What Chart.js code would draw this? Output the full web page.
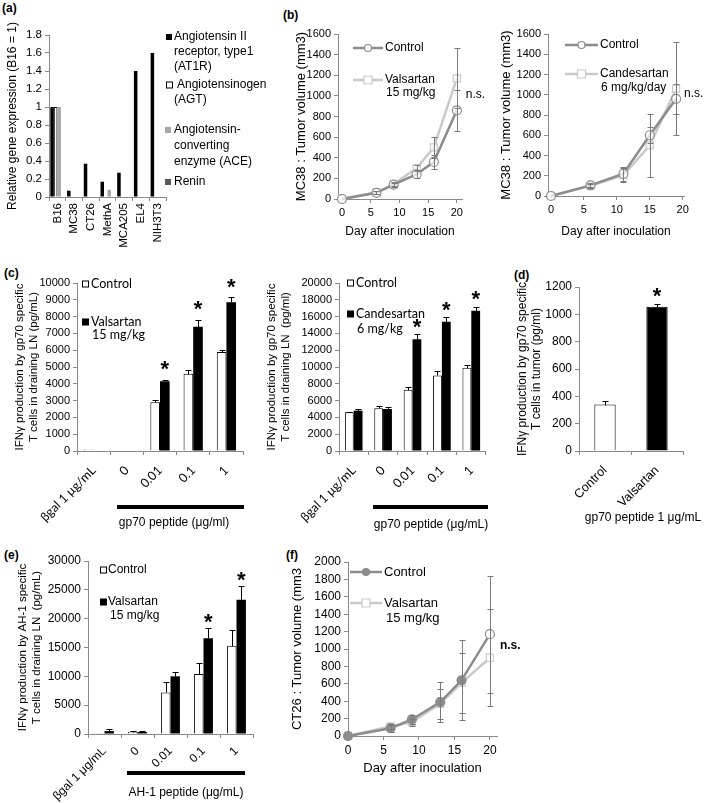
<!DOCTYPE html>
<html>
<head>
<meta charset="utf-8">
<script src="https://cdn.jsdelivr.net/npm/chart.js@4.4.1/dist/chart.umd.min.js"></script>
<style>
  body { margin: 0; width: 709px; height: 803px; background: #fff; position: relative; overflow: hidden;
         font-family: "Liberation Sans", Arial, sans-serif; }
  .tag { position: absolute; font-weight: bold; font-size: 12px; color: #000; }
  canvas { position: absolute; }
</style>
</head>
<body>
<div class="tag" style="left:2px;top:1px">(a)</div>
<div class="tag" style="left:283px;top:8px">(b)</div>
<div class="tag" style="left:4px;top:266px">(c)</div>
<div class="tag" style="left:514px;top:268px">(d)</div>
<div class="tag" style="left:4px;top:548px">(e)</div>
<div class="tag" style="left:286px;top:548px">(f)</div>
<script>
// (a) relative gene expression, B16 = 1
const cellLines = ['B16', 'MC38', 'CT26', 'MethA', 'MCA205', 'EL4', 'NIH3T3'];
const at1r  = [1, 0.07, 0.37, 0.17, 0.27, 1.4, 1.6];
const agt   = [1, 0, 0, 0, 0, 0, 0];
const ace   = [1, 0, 0, 0.08, 0, 0, 0];
const renin = [0, 0, 0, 0, 0, 0, 0];

// (b) MC38 tumour volume, valsartan
const dayB1 = [0, 6, 9, 13, 16, 20];
const mc38Ctrl = [0, 60, 140, 240, 360, 860];
const mc38CtrlErr = [0, 15, 20, 40, 70, 200];
const mc38Val = [0, 65, 145, 300, 500, 1170];
const mc38ValErr = [0, 15, 20, 30, 100, 290];

// (b) MC38 tumour volume, candesartan
const dayB2 = [0, 6, 11, 15, 19];
const candCtrl = [0, 105, 220, 600, 960];
const candCtrlErr = [0, 20, 70, 80, 150];
const candDrug = [0, 100, 205, 500, 1060];
const candDrugErr = [0, 20, 70, 310, 460];

// (c) IFNg in draining LN
const doseLabels = ['βgal 1 μg/mL', '0', '0.01', '0.1', '1'];
const gpCtrl = [80, 0, 2900, 4600, 5900];
const gpCtrlErr = [0, 0, 150, 220, 120];
const gpVal = [0, 0, 4150, 7400, 8850];
const gpValErr = [0, 0, 100, 400, 300];
const gpCandCtrl = [4600, 5100, 7300, 9000, 9900];
const gpCandCtrlErr = [100, 200, 300, 500, 300];
const gpCand = [4800, 5000, 13300, 15400, 16700];
const gpCandErr = [150, 200, 600, 500, 500];

// (d) IFNg in tumour
const tumorLabels = ['Control', 'Valsartan'];
const tumorIfn = [340, 1055];
const tumorIfnErr = [25, 20];

// (e) AH-1 specific IFNg
const ahCtrl = [50, 400, 7200, 10400, 15300];
const ahCtrlErr = [0, 200, 1800, 1900, 2800];
const ahVal = [500, 350, 10000, 16600, 23300];
const ahValErr = [300, 200, 800, 1800, 2400];

// (f) CT26 tumour volume
const dayF = [0, 6, 9, 13, 16, 20];
const ct26Ctrl = [0, 90, 190, 390, 640, 1170];
const ct26CtrlErr = [0, 40, 50, 230, 460, 670];
const ct26Val = [0, 110, 160, 370, 610, 900];
const ct26ValErr = [0, 30, 40, 170, 340, 560];

const AX = '#8a8a8a';
const DARK = '#8c8c8c', LIGHT = '#c9c9c9';
const SANS = '"Liberation Sans", Arial, sans-serif';
const CAL = 'Lato, "Liberation Sans", sans-serif';

Chart.defaults.font.family = SANS;
Chart.defaults.color = '#000';
Chart.defaults.animation = false;
Chart.defaults.responsive = false;
Chart.defaults.plugins.legend.display = false;
Chart.defaults.plugins.tooltip.enabled = false;

function place(left, top, w, h) {
  const c = document.createElement('canvas');
  c.width = w; c.height = h;
  c.style.left = left + 'px'; c.style.top = top + 'px';
  c.style.width = w + 'px'; c.style.height = h + 'px';
  document.body.appendChild(c);
  return c;
}

function yAxis(o) {
  return {
    min: 0, max: o.max,
    ticks: { stepSize: o.step, font: { size: o.fs || 11 }, padding: 3, callback: o.fmt || (v => String(v)) },
    grid: { drawOnChartArea: false, tickLength: 4, color: AX },
    border: { color: AX },
    title: { display: true, text: o.title, font: { size: o.tfs || 12, family: SANS },
             padding: { top: o.tpad, bottom: 0 } },
    afterFit: s => { s.width = o.w; }
  };
}

function catAxis(o) {
  return {
    ticks: { minRotation: o.rot, maxRotation: o.rot, autoSkip: false, padding: o.pad || 2,
             font: { size: o.fs || 12, family: o.family || SANS } },
    grid: { drawOnChartArea: false, tickLength: 4, color: AX },
    border: { color: AX },
    afterFit: s => { s.height = o.h; }
  };
}

function dayAxis(o) {
  return {
    type: 'linear', min: o.min, max: o.max,
    afterBuildTicks: s => { s.ticks = [0, 5, 10, 15, 20].map(v => ({ value: v })); },
    ticks: { font: { size: o.fs || 11 }, padding: 3, callback: v => String(v) },
    grid: { drawOnChartArea: false, tickLength: 4, color: AX, offset: false },
    border: { color: AX },
    title: { display: true, text: 'Day after inoculation', font: { size: o.tfs || 12 },
             padding: { top: 0, bottom: o.tpad } },
    afterFit: s => { s.height = o.h; }
  };
}

function pts(xs, ys) { return xs.map((x, i) => ({ x: x, y: ys[i] })); }

// error bars, legends, stars and labels
const deco = {
  id: 'deco',
  afterDatasetsDraw(chart, args, o) {
    const ctx = chart.ctx;
    chart.data.datasets.forEach((ds, i) => {
      if (!ds.errors) return;
      const meta = chart.getDatasetMeta(i);
      const ys = chart.scales[meta.yAxisID];
      ctx.save();
      ctx.strokeStyle = ds.errorColor || '#000';
      ctx.lineWidth = 1;
      meta.data.forEach((el, j) => {
        const e = ds.errors[j];
        if (!e) return;
        const d = ds.data[j];
        const v = typeof d === 'object' ? d.y : d;
        const top = Math.round(ys.getPixelForValue(v + e)) + 0.5;
        const bot = Math.round(ys.getPixelForValue(o.both ? v - e : v)) + 0.5;
        const x = Math.round(el.x) + 0.5, cw = o.cap || 3;
        ctx.beginPath();
        ctx.moveTo(x, top); ctx.lineTo(x, bot);
        ctx.moveTo(x - cw, top); ctx.lineTo(x + cw, top);
        if (o.both) { ctx.moveTo(x - cw, bot); ctx.lineTo(x + cw, bot); }
        ctx.stroke();
      });
      ctx.restore();
    });
  },
  afterDraw(chart, args, o) {
    const ctx = chart.ctx, ox = o.ox || 0, oy = o.oy || 0;
    ctx.save();
    ctx.textBaseline = 'middle';
    (o.rules || []).forEach(r => {
      ctx.fillStyle = '#000';
      ctx.fillRect(r.x0 - ox, r.y - oy - 2, r.x1 - r.x0, 4);
    });
    (o.keys || []).forEach(k => {
      const y = k.y - oy;
      ctx.strokeStyle = k.color; ctx.lineWidth = 2.5;
      ctx.beginPath(); ctx.moveTo(k.x0 - ox, y); ctx.lineTo(k.x1 - ox, y); ctx.stroke();
      const mx = (k.x0 + k.x1) / 2 - ox;
      ctx.lineWidth = 1.2; ctx.fillStyle = k.fill;
      ctx.beginPath();
      if (k.shape === 'rect') ctx.rect(mx - 4, y - 4, 8, 8);
      else ctx.arc(mx, y, 3.5, 0, Math.PI * 2);
      ctx.fill(); ctx.stroke();
    });
    (o.boxes || []).forEach(b => {
      const x = b.x - ox, y = b.y - oy - b.s / 2;
      ctx.fillStyle = b.fill;
      ctx.fillRect(x, y, b.s, b.s);
      if (b.stroke) {
        ctx.strokeStyle = b.stroke; ctx.lineWidth = 1;
        ctx.strokeRect(x + 0.5, y + 0.5, b.s - 1, b.s - 1);
      }
    });
    (o.texts || []).forEach(t => {
      ctx.font = t.font; ctx.fillStyle = '#000'; ctx.textAlign = t.align || 'left';
      ctx.fillText(t.s, t.x - ox, t.y - oy);
    });
    if (o.stars) {
      const s = o.stars, ds = chart.data.datasets[s.ds];
      const meta = chart.getDatasetMeta(s.ds), ys = chart.scales[meta.yAxisID];
      ctx.font = 'bold 22px ' + SANS; ctx.textAlign = 'center'; ctx.textBaseline = 'alphabetic';
      ctx.fillStyle = '#000';
      s.idx.forEach(j => {
        const top = ys.getPixelForValue(ds.data[j] + (ds.errors ? ds.errors[j] : 0));
        ctx.fillText('*', meta.data[j].x, top - s.gap + 12.5);
      });
      ctx.textBaseline = 'middle';
    }
    if (o.ns) {
      const m0 = chart.getDatasetMeta(0).data, m1 = chart.getDatasetMeta(1).data;
      const a = m0[m0.length - 1], b = m1[m1.length - 1];
      ctx.font = o.ns.font; ctx.textAlign = 'left'; ctx.fillStyle = '#000';
      ctx.fillText('n.s.', Math.max(a.x, b.x) + o.ns.dx, (a.y + b.y) / 2);
    }
    ctx.restore();
  }
};

function lineSet(xs, ys, errs, color, shape, fill) {
  return {
    data: pts(xs, ys), errors: errs, errorColor: '#7a7a7a',
    borderColor: color, borderWidth: 2.5, tension: 0, clip: false,
    pointStyle: shape, pointRadius: shape === 'rect' ? 5 : 4.5,
    pointBorderColor: color, pointBackgroundColor: fill, pointBorderWidth: 1.2
  };
}

// ---------- (a)
new Chart(place(0, 22, 288, 240), {
  type: 'bar',
  data: {
    labels: cellLines,
    datasets: [
      { data: at1r, backgroundColor: '#000' },
      { data: agt, backgroundColor: '#fff', borderColor: '#000', borderWidth: 1, borderSkipped: 'start' },
      { data: ace, backgroundColor: '#a6a6a6' },
      { data: renin, backgroundColor: '#595959' }
    ]
  },
  options: {
    layout: { padding: { top: 13, right: 122, left: 0, bottom: 0 } },
    datasets: { bar: { categoryPercentage: 0.84, barPercentage: 1 } },
    scales: {
      x: catAxis({ rot: 90, h: 65, fs: 11.5 }),
      y: yAxis({ max: 1.8, step: 0.2, w: 49, fs: 11.5, title: 'Relative gene expression (B16 = 1)', tpad: 5,
                 fmt: v => String(Math.round(v * 10) / 10) })
    },
    plugins: {
      deco: {
        ox: 0, oy: 22,
        boxes: [
          { x: 166, y: 37, s: 6, fill: '#000' },
          { x: 166, y: 85, s: 7, fill: '#fff', stroke: '#000' },
          { x: 165, y: 130, s: 6, fill: '#a6a6a6' },
          { x: 165, y: 182, s: 6, fill: '#595959' }
        ],
        texts: [
          ['Angiotensin II', 174, 37], ['receptor, type1', 174, 52], ['(AT1R)', 174, 67],
          ['Angiotensinogen', 177, 85], ['(AGT)', 174, 100],
          ['Angiotensin-', 174, 130], ['converting', 174, 146], ['enzyme (ACE)', 174, 162],
          ['Renin', 174, 182]
        ].map(t => ({ s: t[0], x: t[1], y: t[2], font: '12px ' + SANS }))
      }
    }
  },
  plugins: [deco]
});

// ---------- (b) valsartan
new Chart(place(290, 24, 200, 218), {
  type: 'line',
  data: {
    datasets: [
      lineSet(dayB1, mc38Ctrl, mc38CtrlErr, DARK, 'circle', 'rgba(255,255,255,0.7)'),
      lineSet(dayB1, mc38Val, mc38ValErr, LIGHT, 'rect', 'rgba(255,255,255,0.7)')
    ]
  },
  options: {
    layout: { padding: { top: 10, right: 28, left: 0, bottom: 0 } },
    scales: {
      x: dayAxis({ min: -0.7, max: 20.9, h: 43, tpad: 3 }),
      y: yAxis({ max: 1600, step: 200, w: 48, title: 'MC38 : Tumor volume (mm3)', tfs: 13, tpad: 4 })
    },
    plugins: {
      deco: {
        ox: 290, oy: 24, both: true,
        ns: { dx: 9, font: '12px ' + SANS },
        keys: [
          { x0: 353, x1: 383, y: 48, color: DARK, fill: '#fff', shape: 'circle' },
          { x0: 353, x1: 383, y: 80, color: LIGHT, fill: '#fff', shape: 'rect' }
        ],
        texts: [['Control', 385, 48], ['Valsartan', 385, 80], ['15 mg/kg', 386, 93]]
          .map(t => ({ s: t[0], x: t[1], y: t[2], font: '12px ' + SANS }))
      }
    }
  },
  plugins: [deco]
});

// ---------- (b) candesartan
new Chart(place(495, 24, 214, 218), {
  type: 'line',
  data: {
    datasets: [
      lineSet(dayB2, candCtrl, candCtrlErr, DARK, 'circle', 'rgba(255,255,255,0.7)'),
      lineSet(dayB2, candDrug, candDrugErr, LIGHT, 'rect', 'rgba(255,255,255,0.7)')
    ]
  },
  options: {
    layout: { padding: { top: 10, right: 25, left: 0, bottom: 0 } },
    scales: {
      x: dayAxis({ min: -0.45, max: 20.2, h: 46, tpad: 3 }),
      y: yAxis({ max: 1600, step: 200, w: 53, title: 'MC38 : Tumor volume (mm3)', tfs: 13, tpad: 4 })
    },
    plugins: {
      deco: {
        ox: 495, oy: 24, both: true,
        ns: { dx: 8, font: '12px ' + SANS },
        keys: [
          { x0: 565, x1: 598, y: 45, color: DARK, fill: '#fff', shape: 'circle' },
          { x0: 565, x1: 598, y: 74, color: LIGHT, fill: '#fff', shape: 'rect' }
        ],
        texts: [['Control', 600, 45], ['Candesartan', 600, 74], ['6 mg/kg/day', 601, 88]]
          .map(t => ({ s: t[0], x: t[1], y: t[2], font: '12px ' + SANS }))
      }
    }
  },
  plugins: [deco]
});

// ---------- (c) valsartan, draining LN
new Chart(place(0, 268, 250, 267), {
  type: 'bar',
  data: {
    labels: doseLabels,
    datasets: [
      { data: gpCtrl, errors: gpCtrlErr, backgroundColor: '#fff', borderColor: '#000', borderWidth: 1, borderSkipped: 'start' },
      { data: gpVal, errors: gpValErr, backgroundColor: '#000' }
    ]
  },
  options: {
    layout: { padding: { top: 15, right: 7, left: 0, bottom: 0 } },
    datasets: { bar: { categoryPercentage: 0.58, barPercentage: 1 } },
    scales: {
      x: catAxis({ rot: 45, h: 84, fs: 12.5, family: CAL, pad: 8 }),
      y: yAxis({ max: 10000, step: 1000, w: 77, fs: 11,
                 title: ['IFNγ production by gp70 specific', 'T cells in draining LN (pg/mL)'], tfs: 11.5, tpad: 13 })
    },
    plugins: {
      deco: {
        ox: 0, oy: 268,
        stars: { ds: 1, idx: [2, 3, 4], gap: 16 },
        rules: [{ x0: 117, x1: 244, y: 507 }],
        boxes: [
          { x: 82, y: 284, s: 7, fill: '#fff', stroke: '#000' },
          { x: 82, y: 322, s: 7, fill: '#000' }
        ],
        texts: [
          { s: 'Control', x: 91, y: 284, font: '12.5px ' + CAL },
          { s: 'Valsartan', x: 91, y: 322, font: '12.5px ' + CAL },
          { s: '15 mg/kg', x: 92, y: 335, font: '12.5px ' + CAL },
          { s: 'gp70 peptide (μg/ml)', x: 174, y: 523, align: 'center', font: '12px ' + SANS }
        ]
      }
    }
  },
  plugins: [deco]
});

// ---------- (c) candesartan, draining LN
new Chart(place(262, 268, 228, 267), {
  type: 'bar',
  data: {
    labels: doseLabels,
    datasets: [
      { data: gpCandCtrl, errors: gpCandCtrlErr, backgroundColor: '#fff', borderColor: '#000', borderWidth: 1, borderSkipped: 'start' },
      { data: gpCand, errors: gpCandErr, backgroundColor: '#000' }
    ]
  },
  options: {
    layout: { padding: { top: 15, right: 1, left: 0, bottom: 0 } },
    datasets: { bar: { categoryPercentage: 0.6, barPercentage: 1 } },
    scales: {
      x: catAxis({ rot: 45, h: 84, fs: 12.5, family: CAL, pad: 8 }),
      y: yAxis({ max: 20000, step: 2000, w: 77, fs: 11,
                 title: ['IFNγ production by gp70 specific', 'T cells in draining LN  (pg/ml)'], tfs: 11.5, tpad: 3 })
    },
    plugins: {
      deco: {
        ox: 262, oy: 268,
        stars: { ds: 1, idx: [2, 3, 4], gap: 13 },
        rules: [{ x0: 373, x1: 488, y: 507 }],
        boxes: [
          { x: 347, y: 283, s: 7, fill: '#fff', stroke: '#000' },
          { x: 347, y: 314, s: 7, fill: '#000' }
        ],
        texts: [
          { s: 'Control', x: 356, y: 283, font: '12.5px ' + CAL },
          { s: 'Candesartan', x: 356, y: 314, font: '12.5px ' + CAL },
          { s: '6 mg/kg', x: 357, y: 329, font: '12.5px ' + CAL },
          { s: 'gp70 peptide (μg/mL)', x: 431, y: 525, align: 'center', font: '12px ' + SANS }
        ]
      }
    }
  },
  plugins: [deco]
});

// ---------- (d) tumour
new Chart(place(505, 268, 204, 267), {
  type: 'bar',
  data: {
    labels: tumorLabels,
    datasets: [
      { data: tumorIfn, errors: tumorIfnErr, backgroundColor: ['#fff', '#000'], borderColor: '#000',
        borderWidth: 1, borderSkipped: 'start' }
    ]
  },
  options: {
    layout: { padding: { top: 19, right: 26, left: 0, bottom: 0 } },
    datasets: { bar: { categoryPercentage: 1, barPercentage: 0.41 } },
    scales: {
      x: catAxis({ rot: 45, h: 84, fs: 12.5, pad: 8 }),
      y: yAxis({ max: 1200, step: 200, w: 74, fs: 12,
                 title: ['IFNγ production by gp70 specific', 'T cells in tumor (pg/ml)'], tfs: 12, tpad: 10 })
    },
    plugins: {
      deco: {
        ox: 505, oy: 268,
        stars: { ds: 0, idx: [1], gap: 14 },
        texts: [{ s: 'gp70 peptide 1 μg/mL', x: 643, y: 518, align: 'center', font: '12px ' + SANS }]
      }
    }
  },
  plugins: [deco]
});

// ---------- (e) AH-1
new Chart(place(0, 548, 260, 255), {
  type: 'bar',
  data: {
    labels: doseLabels,
    datasets: [
      { data: ahCtrl, errors: ahCtrlErr, backgroundColor: '#fff', borderColor: '#000', borderWidth: 1, borderSkipped: 'start' },
      { data: ahVal, errors: ahValErr, backgroundColor: '#000' }
    ]
  },
  options: {
    layout: { padding: { top: 13, right: 7, left: 0, bottom: 0 } },
    datasets: { bar: { categoryPercentage: 0.57, barPercentage: 1 } },
    scales: {
      x: catAxis({ rot: 45, h: 69, fs: 12, pad: 6 }),
      y: yAxis({ max: 30000, step: 5000, w: 88, fs: 12,
                 title: ['IFNγ production by AH-1 specific', 'T cells in draining LN  (pg/mL)'], tfs: 11.5, tpad: 16 })
    },
    plugins: {
      deco: {
        ox: 0, oy: 548,
        stars: { ds: 1, idx: [3, 4], gap: 11 },
        rules: [{ x0: 127, x1: 245, y: 773 }],
        boxes: [
          { x: 100, y: 570, s: 7, fill: '#fff', stroke: '#000' },
          { x: 100, y: 602, s: 7, fill: '#000' }
        ],
        texts: [
          { s: 'Control', x: 108, y: 570, font: '12px ' + SANS },
          { s: 'Valsartan', x: 108, y: 602, font: '12px ' + SANS },
          { s: '15 mg/kg', x: 110, y: 616, font: '12px ' + SANS },
          { s: 'AH-1 peptide (μg/mL)', x: 186, y: 793, align: 'center', font: '12px ' + SANS }
        ]
      }
    }
  },
  plugins: [deco]
});

// ---------- (f) CT26
new Chart(place(290, 548, 240, 235), {
  type: 'line',
  data: {
    datasets: [
      lineSet(dayF, ct26Ctrl, ct26CtrlErr, DARK, 'circle', ['#8c8c8c', '#8c8c8c', '#8c8c8c', '#8c8c8c', '#8c8c8c', '#fff']),
      lineSet(dayF, ct26Val, ct26ValErr, LIGHT, 'rect', '#fff')
    ]
  },
  options: {
    layout: { padding: { top: 14, right: 33, left: 0, bottom: 0 } },
    scales: {
      x: dayAxis({ min: 0, max: 21, h: 47, fs: 12, tfs: 13, tpad: 7 }),
      y: yAxis({ max: 2000, step: 200, w: 58, fs: 12, title: 'CT26 : Tumor volume (mm3', tfs: 13, tpad: 0 })
    },
    plugins: {
      deco: {
        ox: 290, oy: 548, both: true,
        ns: { dx: 10, font: 'bold 12px ' + SANS },
        keys: [
          { x0: 350, x1: 382, y: 572, color: DARK, fill: DARK, shape: 'circle' },
          { x0: 350, x1: 382, y: 603, color: LIGHT, fill: '#fff', shape: 'rect' }
        ],
        texts: [['Control', 384, 572], ['Valsartan', 384, 603], ['15 mg/kg', 386, 618]]
          .map(t => ({ s: t[0], x: t[1], y: t[2], font: '13px ' + SANS }))
      }
    }
  },
  plugins: [deco]
});
</script>
</body>
</html>
